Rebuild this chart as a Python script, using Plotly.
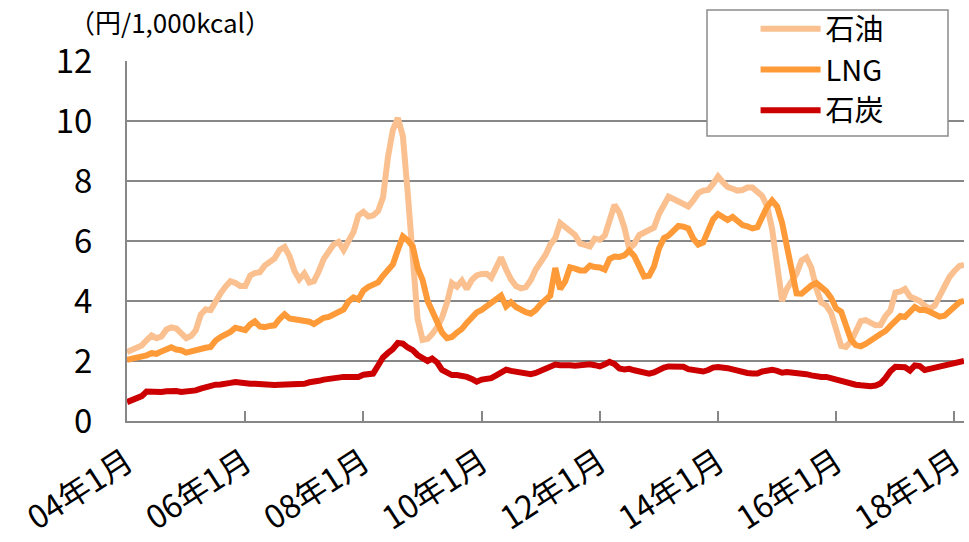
import plotly.graph_objects as go
import pandas as pd

months = pd.date_range("2004-01-01", "2018-03-01", freq="MS")

oil = [
    2.30, 2.36, 2.41, 2.52, 2.69, 2.85, 2.76, 2.82, 3.05, 3.12, 3.08, 2.90,
    2.76, 2.84, 3.02, 3.55, 3.72, 3.70, 4.00, 4.25, 4.48, 4.66, 4.60, 4.50,
    4.50, 4.85, 4.93, 4.96, 5.18, 5.28, 5.42, 5.70, 5.80, 5.50, 5.00, 4.72,
    4.92, 4.62, 4.66, 5.00, 5.40, 5.65, 5.88, 5.97, 5.70, 6.00, 6.30, 6.85,
    6.97, 6.82, 6.85, 7.00, 7.45, 8.80, 9.70, 10.10, 9.50, 7.60, 5.20, 3.40,
    2.70, 2.74, 2.90, 3.12, 3.45, 3.95, 4.60, 4.48, 4.68, 4.40, 4.70, 4.85,
    4.90, 4.91, 4.78, 5.15, 5.45, 5.05, 4.72, 4.50, 4.42, 4.46, 4.70, 5.05,
    5.28, 5.55, 5.88, 6.10, 6.60, 6.45, 6.33, 6.20, 5.92, 5.87, 5.82, 6.08,
    6.04, 6.18, 6.75, 7.20, 6.95, 6.45, 5.75, 5.90, 6.20, 6.30, 6.36, 6.45,
    6.90, 7.25, 7.48, 7.40, 7.30, 7.24, 7.15, 7.35, 7.60, 7.68, 7.70, 7.90,
    8.15, 7.95, 7.80, 7.74, 7.68, 7.70, 7.78, 7.78, 7.66, 7.50, 7.15, 6.40,
    5.20, 4.00, 4.40, 4.70, 4.91, 5.35, 5.45, 5.10, 4.40, 3.95, 3.85, 3.60,
    3.00, 2.50, 2.47, 2.65, 2.98, 3.33, 3.36, 3.25, 3.19, 3.20, 3.50, 3.68,
    4.28, 4.32, 4.40, 4.15, 4.10, 4.00, 3.85, 3.75, 3.85, 4.15, 4.48, 4.80,
    5.00, 5.17, 5.20,
]

lng = [
    2.04, 2.08, 2.11, 2.11, 2.19, 2.26, 2.24, 2.32, 2.40, 2.46, 2.38, 2.36,
    2.28, 2.33, 2.36, 2.43, 2.44, 2.47, 2.68, 2.80, 2.86, 2.97, 3.11, 3.08,
    3.03, 3.22, 3.32, 3.15, 3.13, 3.17, 3.19, 3.40, 3.56, 3.42, 3.39, 3.41,
    3.38, 3.31, 3.23, 3.35, 3.44, 3.47, 3.57, 3.62, 3.72, 3.98, 4.12, 4.05,
    4.35, 4.47, 4.56, 4.62, 4.84, 5.06, 5.22, 5.70, 6.15, 6.02, 5.82, 5.10,
    4.70, 4.00, 3.70, 3.35, 2.95, 2.76, 2.80, 2.95, 3.07, 3.27, 3.42, 3.62,
    3.70, 3.82, 3.96, 4.08, 4.18, 3.82, 3.96, 3.80, 3.69, 3.63, 3.58, 3.70,
    3.90, 4.06, 4.18, 5.10, 4.40, 4.65, 5.12, 5.08, 5.02, 5.02, 5.18, 5.13,
    5.12, 5.05, 5.40, 5.48, 5.47, 5.52, 5.68, 5.50, 5.12, 4.82, 4.84, 5.15,
    5.75, 6.10, 6.18, 6.36, 6.50, 6.48, 6.42, 6.08, 5.88, 5.95, 6.35, 6.72,
    6.90, 6.82, 6.70, 6.80, 6.65, 6.53, 6.49, 6.42, 6.46, 6.80, 7.15, 7.35,
    7.15, 6.60, 5.90, 4.90, 4.25, 4.24, 4.38, 4.52, 4.60, 4.48, 4.32, 4.10,
    3.75, 3.64, 3.15, 2.72, 2.53, 2.49, 2.57, 2.66, 2.79, 2.90, 3.00, 3.17,
    3.36, 3.50, 3.47, 3.62, 3.80, 3.70, 3.71, 3.64, 3.53, 3.48, 3.51, 3.66,
    3.84, 3.96, 4.00,
]

coal = [
    0.63, 0.71, 0.80, 0.83, 0.98, 0.97, 0.93, 0.97, 0.99, 1.01, 1.00, 0.97,
    0.97, 0.99, 1.02, 1.08, 1.13, 1.19, 1.21, 1.22, 1.22, 1.27, 1.30, 1.27,
    1.24, 1.24, 1.24, 1.22, 1.19, 1.19, 1.20, 1.21, 1.21, 1.21, 1.20, 1.19,
    1.24, 1.29, 1.30, 1.34, 1.38, 1.41, 1.43, 1.46, 1.47, 1.47, 1.47, 1.47,
    1.54, 1.58, 1.58, 1.85, 2.12, 2.27, 2.40, 2.60, 2.58, 2.45, 2.36, 2.20,
    2.09, 2.00, 2.08, 1.95, 1.70, 1.60, 1.53, 1.53, 1.52, 1.47, 1.40, 1.31,
    1.38, 1.40, 1.43, 1.52, 1.61, 1.71, 1.67, 1.63, 1.61, 1.58, 1.56, 1.60,
    1.67, 1.71, 1.79, 1.88, 1.86, 1.88, 1.86, 1.84, 1.86, 1.87, 1.89, 1.86,
    1.82, 1.89, 1.97, 1.90, 1.75, 1.72, 1.74, 1.69, 1.65, 1.61, 1.58, 1.62,
    1.72, 1.78, 1.82, 1.82, 1.86, 1.81, 1.73, 1.71, 1.70, 1.65, 1.70, 1.78,
    1.80, 1.79, 1.76, 1.72, 1.67, 1.63, 1.60, 1.58, 1.58, 1.65, 1.69, 1.71,
    1.67, 1.61, 1.63, 1.62, 1.60, 1.58, 1.56, 1.52, 1.48, 1.47, 1.47, 1.42,
    1.39, 1.31, 1.26, 1.23, 1.21, 1.19, 1.16, 1.16, 1.18, 1.25, 1.43, 1.66,
    1.81, 1.82, 1.79, 1.68, 1.85, 1.83, 1.70, 1.74, 1.78, 1.85, 1.89, 1.91,
    1.93, 1.97, 2.00,
]

tick_dates = ["2004-01-01", "2006-01-01", "2008-01-01", "2010-01-01",
              "2012-01-01", "2014-01-01", "2016-01-01", "2018-01-01"]
tick_labels = ["04年1月", "06年1月", "08年1月", "10年1月",
               "12年1月", "14年1月", "16年1月", "18年1月"]
y_ticks = [0, 2, 4, 6, 8, 10, 12]

FONT = "Noto Sans CJK JP"
GRID = "#878787"

fig = go.Figure()
fig.add_trace(go.Scatter(x=months, y=oil, mode="lines", name="石油",
                         line=dict(color="#FAC090", width=6)))
fig.add_trace(go.Scatter(x=months, y=lng, mode="lines", name="LNG",
                         line=dict(color="#FF9A38", width=6)))
fig.add_trace(go.Scatter(x=months, y=coal, mode="lines", name="石炭",
                         line=dict(color="#CC0000", width=6)))

fig.update_layout(
    width=969, height=542,
    margin=dict(l=127, r=5, t=61, b=121, autoexpand=False),
    paper_bgcolor="white", plot_bgcolor="white",
    showlegend=True,
    legend=dict(x=0.751, y=1.16, xanchor="left", yanchor="top",
                bgcolor="rgba(0,0,0,0)", borderwidth=0,
                font=dict(family=FONT, size=29, color="#000"),
                tracegroupgap=0, itemwidth=60),
    shapes=[dict(type="rect", xref="paper", yref="paper",
                 x0=(707 - 127) / 837, x1=(948 - 127) / 837,
                 y0=(421 - 136) / 360, y1=(421 - 10) / 360,
                 line=dict(color="#8C8C8C", width=1.5),
                 fillcolor="white", layer="above")],
    annotations=[dict(text="（円/1,000kcal）", xref="paper", yref="paper",
                      x=(170 - 127) / 837, y=(421 - 22) / 360,
                      xanchor="center", yanchor="middle", showarrow=False,
                      font=dict(family=FONT, size=26, color="#000"))],
)

fig.update_xaxes(
    range=["2004-01-01", "2018-03-01"], automargin=False,
    tickvals=tick_dates, ticktext=tick_labels,
    tickangle=-33, ticks="inside", ticklen=10, tickwidth=2, tickcolor=GRID,
    ticklabelstandoff=8,
    showgrid=False, showline=True, linecolor=GRID, linewidth=2,
    tickfont=dict(family=FONT, size=32, color="#000"),
)
fig.update_yaxes(
    range=[0, 12], tickvals=y_ticks, automargin=False,
    showgrid=True, gridcolor=GRID, gridwidth=2,
    showline=True, linecolor=GRID, linewidth=2,
    ticks="", ticklabelstandoff=26, zeroline=False,
    tickfont=dict(family=FONT, size=33, color="#000"),
)

fig.write_html("out.html",
               config={"displayModeBar": False},
               post_script="document.body.style.margin='0px';"
                           "document.body.style.overflow='hidden';")
